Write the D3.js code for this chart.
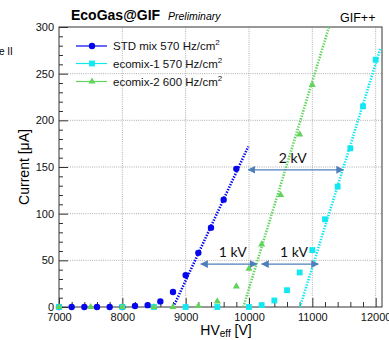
<!DOCTYPE html>
<html>
<head>
<meta charset="utf-8">
<script src="https://cdn.jsdelivr.net/npm/d3@7"></script>
<style>
    body { margin: 0; background: #fff; }
    text { font-family: "Liberation Sans", Arial, sans-serif; }
</style>
</head>
<body>
<div id="content"></div>
<script>
// series (HV_eff in V, current in uA)
const stdHV = [7000, 7200, 7400, 7600, 7800, 8000, 8200, 8400, 8600, 8800, 9000, 9200, 9400, 9600, 9800];
const stdCur = [0, 0, 0, 0, 0, 0, 1, 2, 6, 16, 34, 58, 85, 115, 148];

const eco1HV = [7000, 8000, 8500, 9000, 9500, 10000, 10200, 10400, 10600, 10800, 11000, 11200, 11400, 11600, 11800, 12000];
const eco1Cur = [0, 0, 0, 0, 0, 0, 2, 7, 18, 37, 61, 94, 129, 170, 215, 265];

const eco2HV = [7000, 7500, 8000, 8500, 8800, 9200, 9500, 9800, 10000, 10200, 10500, 10800, 11000];
const eco2Cur = [0, 0, 0, 0, 0, 1, 6, 22, 41, 67, 120, 185, 238];

const seriesNames = ["STD mix 570 Hz/cm", "ecomix-1 570 Hz/cm", "ecomix-2 600 Hz/cm"];
const seriesColors = ["#0505ee", "#12e8f2", "#62d45e"];

// linear fits drawn as dotted lines (end points)
const stdFit = [[8805, 0], [9989, 172]];
const eco1Fit = [[10805, 0], [12080, 278]];
const eco2Fit = [[9910, 0], [11263, 300]];

// the kV gap annotations
const arrowLabels = ["2 kV", "1 kV", "1 kV"];
const arrowLevel = [147, 46, 46];
const arrowFrom = [9989, 9240, 10201];
const arrowTo = [11489, 10122, 11094];

const xTicks = [7000, 8000, 9000, 10000, 11000, 12000];
const yTicks = [0, 50, 100, 150, 200, 250, 300];

const width = 389, height = 340;
const margin = { top: 27, right: 7, bottom: 33, left: 59 };

const svg = d3.select("#content")
    .append("svg")
    .attr("width", width)
    .attr("height", height);

const x = d3.scaleLinear()
    .domain([7000, 12100])
    .range([margin.left, width - margin.right]);
const y = d3.scaleLinear()
    .domain([0, 300])
    .range([height - margin.bottom, margin.top]);

svg.append("defs").append("clipPath")
    .attr("id", "plot-clip")
    .append("rect")
    .attr("x", x.range()[0])
    .attr("y", y.range()[1])
    .attr("width", x.range()[1] - x.range()[0])
    .attr("height", y.range()[0] - y.range()[1]);

// grid
const grid = svg.append("g")
    .attr("stroke", "#9a9a9a")
    .attr("stroke-width", 0.8)
    .attr("stroke-dasharray", "1,1.2");
grid.selectAll("line.gx")
    .data(xTicks.slice(1))
    .join("line")
    .attr("x1", d => x(d)).attr("x2", d => x(d))
    .attr("y1", y(0)).attr("y2", y(300));
grid.selectAll("line.gy")
    .data(yTicks.slice(1, -1))
    .join("line")
    .attr("x1", x.range()[0]).attr("x2", x.range()[1])
    .attr("y1", d => y(d)).attr("y2", d => y(d));

// frame
svg.append("rect")
    .attr("x", x.range()[0])
    .attr("y", y.range()[1])
    .attr("width", x.range()[1] - x.range()[0])
    .attr("height", y.range()[0] - y.range()[1])
    .attr("fill", "none")
    .attr("stroke", "#333")
    .attr("stroke-width", 1);

// ticks pointing inwards, root style
const xMinor = d3.range(7000, 12001, 200);
svg.append("g")
    .attr("transform", `translate(0, ${y(0)})`)
    .call(d3.axisBottom(x).tickValues(xMinor).tickSize(0).tickFormat(""))
    .call(g => g.select(".domain").remove())
    .selectAll(".tick line")
    .attr("y2", d => xTicks.includes(d) ? -9 : -5)
    .attr("stroke", "#333");

svg.append("g")
    .attr("transform", `translate(0, ${y(0)})`)
    .call(d3.axisBottom(x).tickValues(xTicks).tickSize(0).tickPadding(6).tickFormat(d3.format("d")))
    .call(g => g.select(".domain").remove())
    .selectAll("text")
    .style("font-size", "11px")
    .attr("fill", "#111");

const yMinor = d3.range(0, 301, 10);
svg.append("g")
    .attr("transform", `translate(${x.range()[0]}, 0)`)
    .call(d3.axisLeft(y).tickValues(yMinor).tickSize(0).tickFormat(""))
    .call(g => g.select(".domain").remove())
    .selectAll(".tick line")
    .attr("x2", d => yTicks.includes(d) ? 9 : 4)
    .attr("stroke", "#333");

svg.append("g")
    .attr("transform", `translate(${x.range()[0]}, 0)`)
    .call(d3.axisLeft(y).tickValues(yTicks).tickSize(0).tickPadding(5))
    .call(g => g.select(".domain").remove())
    .selectAll("text")
    .style("font-size", "11px")
    .attr("fill", "#111");

// axis labels
svg.append("text")
    .text("Current [μA]")
    .attr("transform", `translate(29, ${y(150)}) rotate(270)`)
    .style("font-size", "14px")
    .style("text-anchor", "middle");

const xLabel = svg.append("text")
    .attr("x", 226)
    .attr("y", 334.5)
    .style("font-size", "14px")
    .style("text-anchor", "middle");
xLabel.append("tspan").text("HV");
xLabel.append("tspan").text("eff").attr("dy", 2.5).style("font-size", "10px");
xLabel.append("tspan").text(" [V]").attr("dy", -2.5);

// titles
svg.append("text")
    .attr("x", 71)
    .attr("y", 20)
    .text("EcoGas@GIF")
    .style("font-size", "14px")
    .style("font-weight", "bold");
svg.append("text")
    .attr("x", 168)
    .attr("y", 20)
    .text("Preliminary")
    .style("font-size", "10.5px")
    .style("font-style", "italic");
svg.append("text")
    .attr("x", 340)
    .attr("y", 22)
    .text("GIF++")
    .style("font-size", "12.5px");
svg.append("text")
    .attr("x", -1)
    .attr("y", 55)
    .text("e II")
    .style("font-size", "10px");

// fit lines
const fitLine = d3.line()
    .x(d => x(d[0]))
    .y(d => y(d[1]));
svg.append("g")
    .attr("clip-path", "url(#plot-clip)")
    .attr("fill", "none")
    .attr("stroke-width", 2.6)
    .attr("stroke-dasharray", "1.4,1.4")
    .selectAll("path")
    .data([stdFit, eco1Fit, eco2Fit])
    .join("path")
    .attr("d", d => fitLine(d))
    .attr("stroke", (d, i) => seriesColors[i]);

// markers, drawn in legend order so later series sit on top
const symbols = [d3.symbolCircle, d3.symbolSquare, d3.symbolTriangle];
const symbolSizes = [32, 34, 22];
const seriesData = [
    stdHV.map((v, i) => [v, stdCur[i]]),
    eco1HV.map((v, i) => [v, eco1Cur[i]]),
    eco2HV.map((v, i) => [v, eco2Cur[i]])
];
seriesData.forEach((points, k) => {
    svg.append("g")
        .selectAll("path")
        .data(points)
        .join("path")
        .attr("d", d3.symbol().type(symbols[k]).size(symbolSizes[k]))
        .attr("transform", d => `translate(${x(d[0])}, ${y(d[1])})`)
        .attr("fill", seriesColors[k]);
});

// arrows
const arrowColor = "#4f7fbb";
svg.append("defs").append("marker")
    .attr("id", "arrow-head")
    .attr("viewBox", "0 0 10 10")
    .attr("refX", 9)
    .attr("refY", 5)
    .attr("markerWidth", 6)
    .attr("markerHeight", 6)
    .attr("orient", "auto-start-reverse")
    .append("path")
    .attr("d", "M0,0 L10,5 L0,10 z")
    .attr("fill", arrowColor);

const arrowG = svg.append("g");
arrowLabels.forEach((label, i) => {
    arrowG.append("line")
        .attr("x1", x(arrowFrom[i]))
        .attr("x2", x(arrowTo[i]))
        .attr("y1", y(arrowLevel[i]))
        .attr("y2", y(arrowLevel[i]))
        .attr("stroke", arrowColor)
        .attr("stroke-width", 1.3)
        .attr("marker-start", "url(#arrow-head)")
        .attr("marker-end", "url(#arrow-head)");
    arrowG.append("text")
        .text(label)
        .attr("x", x((arrowFrom[i] + arrowTo[i]) / 2) + (i === 0 ? -3 : 4))
        .attr("y", y(arrowLevel[i]) - 7)
        .style("font-family", "Lato, 'Open Sans', sans-serif")
        .style("font-size", "14px")
        .style("text-anchor", "middle")
        .attr("fill", "#111");
});

// legend
const legend = svg.append("g");
const legendRows = [46, 63.5, 81.5];
seriesNames.forEach((name, i) => {
    legend.append("line")
        .attr("x1", 76).attr("x2", 107)
        .attr("y1", legendRows[i]).attr("y2", legendRows[i])
        .attr("stroke", seriesColors[i])
        .attr("stroke-width", 1.2);
    legend.append("path")
        .attr("d", d3.symbol().type(symbols[i]).size(symbolSizes[i]))
        .attr("transform", `translate(92, ${legendRows[i]})`)
        .attr("fill", seriesColors[i]);
    const t = legend.append("text")
        .attr("x", 113)
        .attr("y", legendRows[i] + 4)
        .style("font-size", "11.5px")
        .attr("fill", "#111");
    t.append("tspan").text(name);
    t.append("tspan").text("2").attr("dy", -5).style("font-size", "8px");
});
</script>
</body>
</html>
